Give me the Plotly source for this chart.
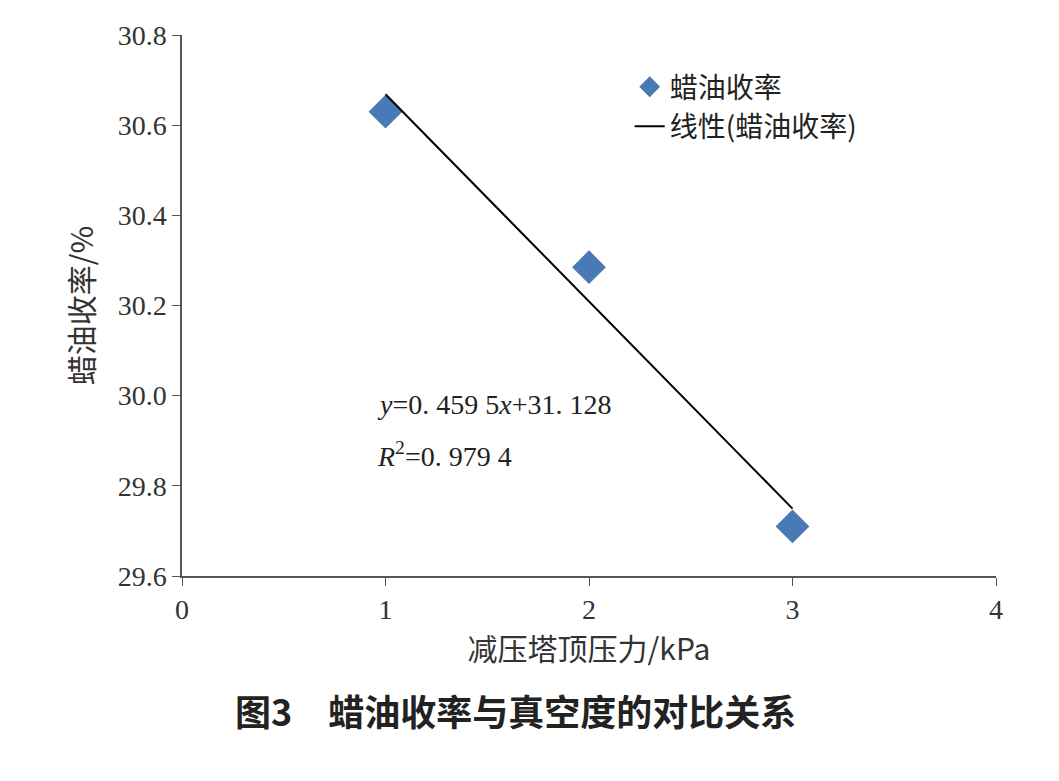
import plotly.graph_objects as go

pressure = [1, 2, 3]
wax_yield = [30.63, 30.285, 29.71]
slope, intercept = -0.4595, 31.128
fit_x = [1, 3]
fit_y = [slope * v + intercept for v in fit_x]

font_cn = "Noto Sans CJK SC"
font_num = "Liberation Serif, Noto Sans CJK SC"

fig = go.Figure()
fig.add_trace(go.Scatter(x=pressure, y=wax_yield, mode="markers", name="蜡油收率",
                         marker=dict(symbol="diamond", size=26, color="#4a7ab5")))
fig.add_trace(go.Scatter(x=fit_x, y=fit_y, mode="lines", name="线性(蜡油收率)",
                         line=dict(color="black", width=2)))

fig.add_annotation(x=0.95, y=29.98, xref="x", yref="y", xanchor="left", showarrow=False,
                   text="<i>y</i>=0. 459 5<i>x</i>+31. 128", font=dict(family=font_num, size=28, color="#222"))
fig.add_annotation(x=0.95, y=29.87, xref="x", yref="y", xanchor="left", showarrow=False,
                   text="<i>R</i><sup>2</sup>=0. 979 4", font=dict(family=font_num, size=28, color="#222"))
fig.add_annotation(x=515, y=740, xref="paper", yref="paper", showarrow=False,
                   text="<b>图3　蜡油收率与真空度的对比关系</b>", font=dict(family=font_cn, size=36, color="#222"))
fig.layout.annotations[-1].update(x=0.41, y=-0.30)

fig.update_xaxes(range=[0, 4], dtick=1, showline=True, linecolor="#555", linewidth=1.5,
                 ticks="outside", ticklen=8, tickcolor="#555", showgrid=False, zeroline=False,
                 tickfont=dict(family=font_num, size=28, color="#333"),
                 title=dict(text="减压塔顶压力/kPa", font=dict(family=font_cn, size=30, color="#333"), standoff=10))
fig.update_yaxes(range=[29.6, 30.8], dtick=0.2, tickformat=".1f", showline=True, linecolor="#555", linewidth=1.5,
                 ticks="outside", ticklen=8, tickcolor="#555", showgrid=False, zeroline=False,
                 tickfont=dict(family=font_num, size=28, color="#333"),
                 title=dict(text="蜡油收率/%", font=dict(family=font_cn, size=30, color="#333"), standoff=15))

fig.update_layout(width=1059, height=781, plot_bgcolor="white", paper_bgcolor="white",
                  margin=dict(l=174, r=71, t=25, b=213),
                  legend=dict(x=0.55, y=0.95, xanchor="left", yanchor="top", bgcolor="rgba(0,0,0,0)",
                              font=dict(family=font_cn, size=28, color="#222")))

fig.write_html("out.html")
